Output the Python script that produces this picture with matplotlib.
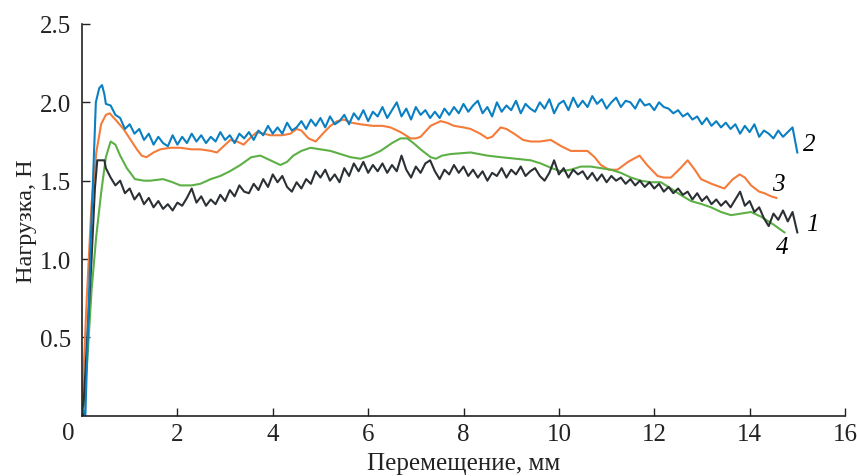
import matplotlib
matplotlib.use("Agg")
import matplotlib.pyplot as plt

plt.rcParams['font.family'] = ['Liberation Serif', 'DejaVu Serif']

# rise part of the noisy curves
rise1_x = [0.02, 0.2, 0.27, 0.32, 0.47]
rise1_y = [0.0, 1.0, 1.45, 1.63, 1.63]
rise2_x = [0.0, 0.07, 0.17, 0.29, 0.36, 0.42, 0.47]
rise2_y = [0.06, 0.0, 1.0, 2.0, 2.09, 2.11, 2.05]

# shared sampling points for curves 1 and 2
noisy_x = [0.5, 0.6, 0.7, 0.8, 0.9, 1.0, 1.1, 1.2, 1.3, 1.4,
           1.5, 1.6, 1.7, 1.8, 1.9, 2.0, 2.1, 2.2, 2.3, 2.4,
           2.5, 2.6, 2.7, 2.8, 2.9, 3.0, 3.1, 3.2, 3.3, 3.4,
           3.5, 3.6, 3.7, 3.8, 3.9, 4.0, 4.1, 4.2, 4.3, 4.4,
           4.5, 4.6, 4.7, 4.8, 4.9, 5.0, 5.1, 5.2, 5.3, 5.4,
           5.5, 5.6, 5.7, 5.8, 5.9, 6.0, 6.1, 6.2, 6.3, 6.4,
           6.5, 6.6, 6.7, 6.8, 6.9, 7.0, 7.1, 7.2, 7.3, 7.4,
           7.5, 7.6, 7.7, 7.8, 7.9, 8.0, 8.1, 8.2, 8.3, 8.4,
           8.5, 8.6, 8.7, 8.8, 8.9, 9.0, 9.1, 9.2, 9.3, 9.4,
           9.5, 9.6, 9.7, 9.8, 9.9, 10.0, 10.1, 10.2, 10.3, 10.4,
           10.5, 10.6, 10.7, 10.8, 10.9, 11.0, 11.1, 11.2, 11.3, 11.4,
           11.5, 11.6, 11.7, 11.8, 11.9, 12.0, 12.1, 12.2, 12.3, 12.4,
           12.5, 12.6, 12.7, 12.8, 12.9, 13.0, 13.1, 13.2, 13.3, 13.4,
           13.5, 13.6, 13.7, 13.8, 13.9, 14.0, 14.1, 14.2, 14.3, 14.4,
           14.5, 14.6, 14.7, 14.8, 14.9, 15.0]

load1 = [1.58, 1.52, 1.47, 1.50, 1.42, 1.45, 1.38, 1.42, 1.35, 1.39,
         1.33, 1.37, 1.32, 1.35, 1.31, 1.36, 1.34, 1.39, 1.45, 1.36,
         1.40, 1.34, 1.38, 1.35, 1.41, 1.37, 1.44, 1.40, 1.47, 1.43,
         1.42, 1.48, 1.44, 1.51, 1.46, 1.54, 1.49, 1.53, 1.46, 1.43,
         1.49, 1.45, 1.51, 1.48, 1.56, 1.52, 1.57, 1.50, 1.54, 1.49,
         1.58, 1.53, 1.61, 1.56, 1.62, 1.55, 1.60, 1.56, 1.61, 1.55,
         1.60, 1.56, 1.66, 1.57, 1.52, 1.59, 1.55, 1.61, 1.63, 1.56,
         1.51, 1.57, 1.54, 1.60, 1.55, 1.59, 1.53, 1.57, 1.52, 1.56,
         1.50, 1.55, 1.53, 1.58, 1.52, 1.57, 1.54, 1.59, 1.53, 1.56,
         1.58, 1.53, 1.50, 1.55, 1.63, 1.54, 1.58, 1.52, 1.57, 1.54,
         1.56, 1.51, 1.55, 1.50, 1.54, 1.49, 1.53, 1.50, 1.52, 1.48,
         1.51, 1.47, 1.50, 1.46, 1.49, 1.45, 1.48, 1.43, 1.46, 1.42,
         1.45, 1.41, 1.43, 1.38, 1.42, 1.37, 1.40, 1.35, 1.38, 1.34,
         1.37, 1.33, 1.38, 1.43, 1.34, 1.37, 1.30, 1.33, 1.26, 1.21,
         1.29, 1.25, 1.31, 1.24, 1.30, 1.17]

load2 = [1.99, 1.98, 1.92, 1.90, 1.83, 1.86, 1.80, 1.83, 1.76, 1.80,
         1.73, 1.78, 1.74, 1.72, 1.79, 1.73, 1.78, 1.74, 1.80, 1.75,
         1.79, 1.74, 1.78, 1.75, 1.81, 1.76, 1.79, 1.74, 1.80, 1.77,
         1.81, 1.76, 1.82, 1.79, 1.85, 1.80, 1.84, 1.80, 1.87, 1.82,
         1.84, 1.88, 1.83, 1.89, 1.85, 1.90, 1.84, 1.91, 1.86, 1.88,
         1.92, 1.86, 1.93, 1.89, 1.95, 1.88, 1.94, 1.91, 1.97, 1.90,
         1.95, 2.00, 1.91, 1.96, 1.89, 1.97, 1.92, 1.95, 1.90, 1.94,
         1.90, 1.96, 1.92, 1.97, 1.93, 1.99, 1.94, 1.98, 2.01, 1.93,
         1.97, 1.91, 2.00, 1.94, 1.98, 1.95, 2.01, 1.93, 1.99, 1.96,
         1.94, 2.00, 1.96, 2.02, 1.93, 1.99, 2.01, 1.95, 2.03, 1.97,
         2.01, 1.97, 2.04, 1.99, 2.02, 1.96, 2.00, 2.03, 1.97, 2.01,
         2.00, 1.96, 2.02, 1.98, 1.99, 1.95, 2.00, 1.97, 1.96, 1.93,
         1.95, 1.91, 1.93, 1.89, 1.91, 1.86, 1.90, 1.85, 1.88, 1.84,
         1.87, 1.83, 1.86, 1.80, 1.85, 1.81, 1.86, 1.78, 1.82, 1.80,
         1.77, 1.82, 1.78, 1.81, 1.84, 1.68]

x3 = [0.0, 0.1, 0.2, 0.3, 0.4, 0.5, 0.58, 0.7, 0.87, 1.0, 1.15, 1.25, 1.35,
      1.5, 1.64, 1.85, 2.06, 2.3, 2.48, 2.7, 2.83, 2.97, 3.11, 3.25, 3.39,
      3.55, 3.67, 3.95, 4.2, 4.37, 4.5, 4.6, 4.75, 4.9, 5.05, 5.21, 5.35,
      5.49, 5.65, 5.84, 6.1, 6.3, 6.47, 6.68, 6.89, 7.0, 7.1, 7.31, 7.52,
      7.65, 7.8, 8.0, 8.15, 8.35, 8.5, 8.6, 8.78, 8.9, 9.06, 9.25, 9.41,
      9.6, 9.83, 10.05, 10.25, 10.45, 10.6, 10.75, 10.88, 11.05, 11.23,
      11.45, 11.69, 11.85, 12.07, 12.2, 12.35, 12.55, 12.7, 12.85, 12.98,
      13.2, 13.47, 13.65, 13.79, 13.9, 14.03, 14.2, 14.31, 14.45, 14.56]
load3 = [0.05, 0.75, 1.35, 1.68, 1.86, 1.92, 1.93, 1.89, 1.83, 1.77, 1.70, 1.66, 1.65,
         1.68, 1.70, 1.71, 1.71, 1.70, 1.70, 1.69, 1.68, 1.72, 1.76, 1.75, 1.73,
         1.78, 1.81, 1.79, 1.79, 1.80, 1.83, 1.82, 1.77, 1.75, 1.80, 1.85, 1.88,
         1.89, 1.87, 1.86, 1.85, 1.85, 1.84, 1.81, 1.77, 1.77, 1.78, 1.85, 1.88,
         1.87, 1.85, 1.84, 1.83, 1.80, 1.77, 1.78, 1.84, 1.83, 1.80, 1.76, 1.75,
         1.75, 1.76, 1.72, 1.69, 1.69, 1.69, 1.65, 1.60, 1.57, 1.57,
         1.62, 1.66, 1.60, 1.53, 1.52, 1.52, 1.58, 1.63, 1.57, 1.51,
         1.48, 1.45, 1.51, 1.54, 1.52, 1.47, 1.43, 1.42, 1.40, 1.39]

x4 = [0.0, 0.1, 0.2, 0.3, 0.4, 0.5, 0.6, 0.7, 0.8, 0.94, 1.11, 1.3, 1.43, 1.7,
      1.9, 2.06, 2.3, 2.48, 2.7, 2.9, 3.1, 3.32, 3.55, 3.74, 3.95, 4.16, 4.3,
      4.43, 4.6, 4.79, 5.0, 5.21, 5.42, 5.63, 5.84, 6.05, 6.26, 6.5, 6.68,
      6.82, 6.95, 7.1, 7.31, 7.42, 7.55, 7.73, 8.15, 8.5, 8.78, 9.1, 9.41,
      9.62, 9.85, 10.04, 10.25, 10.46, 10.67, 10.88, 11.09, 11.3, 11.51,
      11.72, 11.93, 12.14, 12.35, 12.55, 12.77, 13.0, 13.19, 13.4, 13.61,
      13.82, 14.03, 14.24, 14.5, 14.73]
load4 = [0.0, 0.3, 0.8, 1.15, 1.42, 1.65, 1.75, 1.73, 1.66, 1.58, 1.51, 1.50, 1.50, 1.51,
         1.49, 1.47, 1.47, 1.48, 1.51, 1.53, 1.56, 1.60, 1.65, 1.66, 1.63, 1.60, 1.62,
         1.66, 1.69, 1.71, 1.70, 1.69, 1.67, 1.65, 1.64, 1.66, 1.69, 1.74, 1.77,
         1.77, 1.74, 1.70, 1.65, 1.64, 1.66, 1.67, 1.68, 1.66, 1.65, 1.64, 1.63,
         1.61, 1.58, 1.56, 1.57, 1.59, 1.59, 1.58, 1.57, 1.55, 1.52,
         1.50, 1.49, 1.49, 1.45, 1.41, 1.37, 1.35, 1.33, 1.30, 1.28,
         1.29, 1.30, 1.27, 1.22, 1.17]

curve_labels = ['1', '2', '3', '4']
label_x = [15.31, 15.25, 14.60, 14.68]
label_y = [1.225, 1.735, 1.48, 1.076]

x_ticks = [2, 4, 6, 8, 10, 12, 14, 16]
y_ticks = [0.5, 1.0, 1.5, 2.0, 2.5]

fig = plt.figure(figsize=(8.57, 4.77), dpi=100)
ax = fig.add_axes([0.0957, 0.1264, 0.8903, 0.8212])

ax.plot(x3, load3, color='#f47b3a', linewidth=1.5)
ax.plot(x4, load4, color='#5cb046', linewidth=1.5)
ax.plot(rise1_x + noisy_x, rise1_y + load1, color='#2b3035', linewidth=1.5)
ax.plot(rise2_x + noisy_x, rise2_y + load2, color='#0a80c2', linewidth=1.5)

for t, lx, ly in zip(curve_labels, label_x, label_y):
    ax.text(lx, ly, t, fontsize=18, style='italic', ha='center', va='center')

ax.set_xlim(0, 16)
ax.set_ylim(0, 2.5)
ax.set_xticks(x_ticks)
ax.set_yticks(y_ticks)
ax.set_yticklabels(['%.1f' % v for v in y_ticks])
ax.tick_params(direction='in', length=6, width=1, labelsize=18, colors='#222222')
ax.tick_params(axis='y', pad=8)
ax.tick_params(axis='x', pad=5)
ax.spines['top'].set_visible(False)
ax.spines['right'].set_visible(False)
for s in ['left', 'bottom']:
    ax.spines[s].set_linewidth(1.2)
    ax.spines[s].set_color('#222222')

# origin label sits left of the axis corner
ax.annotate('0', xy=(0, 0), xycoords='axes fraction', xytext=(-14, -6),
            textcoords='offset pixels', ha='center', va='top', fontsize=18,
            color='#222222')

ax.set_xlabel('Перемещение, мм', fontsize=18, labelpad=5, color='#222222')
ax.set_ylabel('Нагрузка, Н', fontsize=17.5, labelpad=2, color='#222222')

fig.savefig('out.png', dpi=100)
